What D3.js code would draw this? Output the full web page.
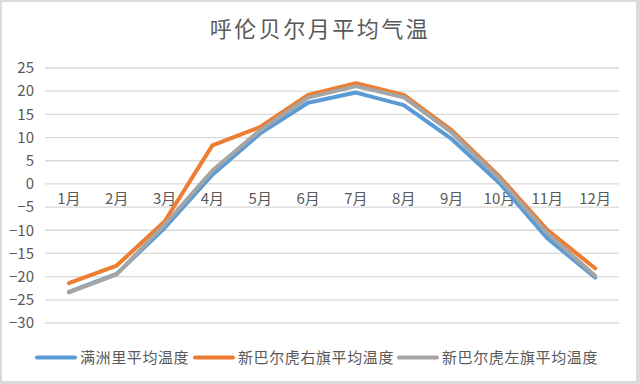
<!DOCTYPE html>
<html><head><meta charset="utf-8">
<script src="https://cdn.jsdelivr.net/npm/d3@7/dist/d3.min.js"></script>
<style>
html,body{margin:0;padding:0;background:#dadada;}
svg{display:block;}
</style></head>
<body>
<svg id="chart" width="640" height="384"></svg>
<script>
const title = "呼伦贝尔月平均气温";
const months = ["1月","2月","3月","4月","5月","6月","7月","8月","9月","10月","11月","12月"];
const yTicks = [25,20,15,10,5,0,-5,-10,-15,-20,-25,-30];
const seriesNames = ["满洲里平均温度","新巴尔虎右旗平均温度","新巴尔虎左旗平均温度"];
const manzhouli = [-23.3,-19.4,-9.5,2.0,10.9,17.5,19.7,17.0,9.7,0.2,-11.7,-20.2];
const youqi = [-21.4,-17.6,-8.1,8.3,12.3,19.2,21.7,19.2,11.6,1.6,-9.9,-18.2];
const zuoqi = [-23.4,-19.5,-8.8,2.9,11.6,18.6,21.1,18.7,11.1,1.1,-10.6,-19.8];
const colors = ["#5b9bd5","#ed7d31","#a5a5a5"];

const svg = d3.select("#chart");
const font = "'Noto Sans CJK SC','Microsoft YaHei',sans-serif";
const textColor = "#595959";

svg.append("rect").attr("x",2).attr("y",2).attr("width",634).attr("height",379)
  .attr("fill","#ffffff");

const x = d3.scaleBand().domain(months).range([45,619]);
const y = d3.scaleLinear().domain([-30,25]).range([323,68]);

// gridlines
svg.append("g").selectAll("line").data(yTicks).join("line")
  .attr("x1",45).attr("x2",619)
  .attr("y1",d=>y(d)).attr("y2",d=>y(d))
  .attr("stroke","#d9d9d9").attr("stroke-width",1.3);

// y axis labels
const yAxis = d3.axisLeft(y).tickValues(yTicks).tickSize(0).tickPadding(0).tickFormat(d3.format("d"));
const gy = svg.append("g").attr("transform","translate(34,0)").call(yAxis);
gy.select(".domain").remove();
gy.selectAll("text").attr("fill",textColor).style("font-family",font).style("font-size","15px");

// x axis labels at zero line
const xAxis = d3.axisBottom(x).tickSize(0).tickPadding(9);
const gx = svg.append("g").attr("transform",`translate(0,${y(0)})`).call(xAxis);
gx.select(".domain").remove();
gx.selectAll("text").attr("fill",textColor).style("font-family",font).style("font-size","15px");

// lines
const data = [manzhouli, youqi, zuoqi];
const line = d3.line().x((d,i)=>x(months[i])+x.bandwidth()/2).y(d=>y(d));
svg.append("g").selectAll("path").data(data).join("path")
  .attr("d",line).attr("fill","none")
  .attr("stroke",(d,i)=>colors[i]).attr("stroke-width",4)
  .attr("stroke-linejoin","round").attr("stroke-linecap","round");

// title
svg.append("text").attr("x",320).attr("y",37).attr("text-anchor","middle")
  .attr("fill",textColor).style("font-family",font).style("font-size","22px")
  .style("letter-spacing","2.5px").text(title);

// legend
const legendX = [37,195,399];
const lg = svg.append("g").selectAll("g").data(seriesNames).join("g")
  .attr("transform",(d,i)=>`translate(${legendX[i]},357.5)`);
lg.append("line").attr("x1",0).attr("x2",38).attr("y1",0).attr("y2",0)
  .attr("stroke",(d,i)=>colors[i]).attr("stroke-width",4).attr("stroke-linecap","round");
lg.append("text").attr("x",43).attr("y",5.5)
  .attr("fill",textColor).style("font-family",font).style("font-size","15px")
  .style("letter-spacing","0.6px").text(d=>d);
</script>
</body></html>
